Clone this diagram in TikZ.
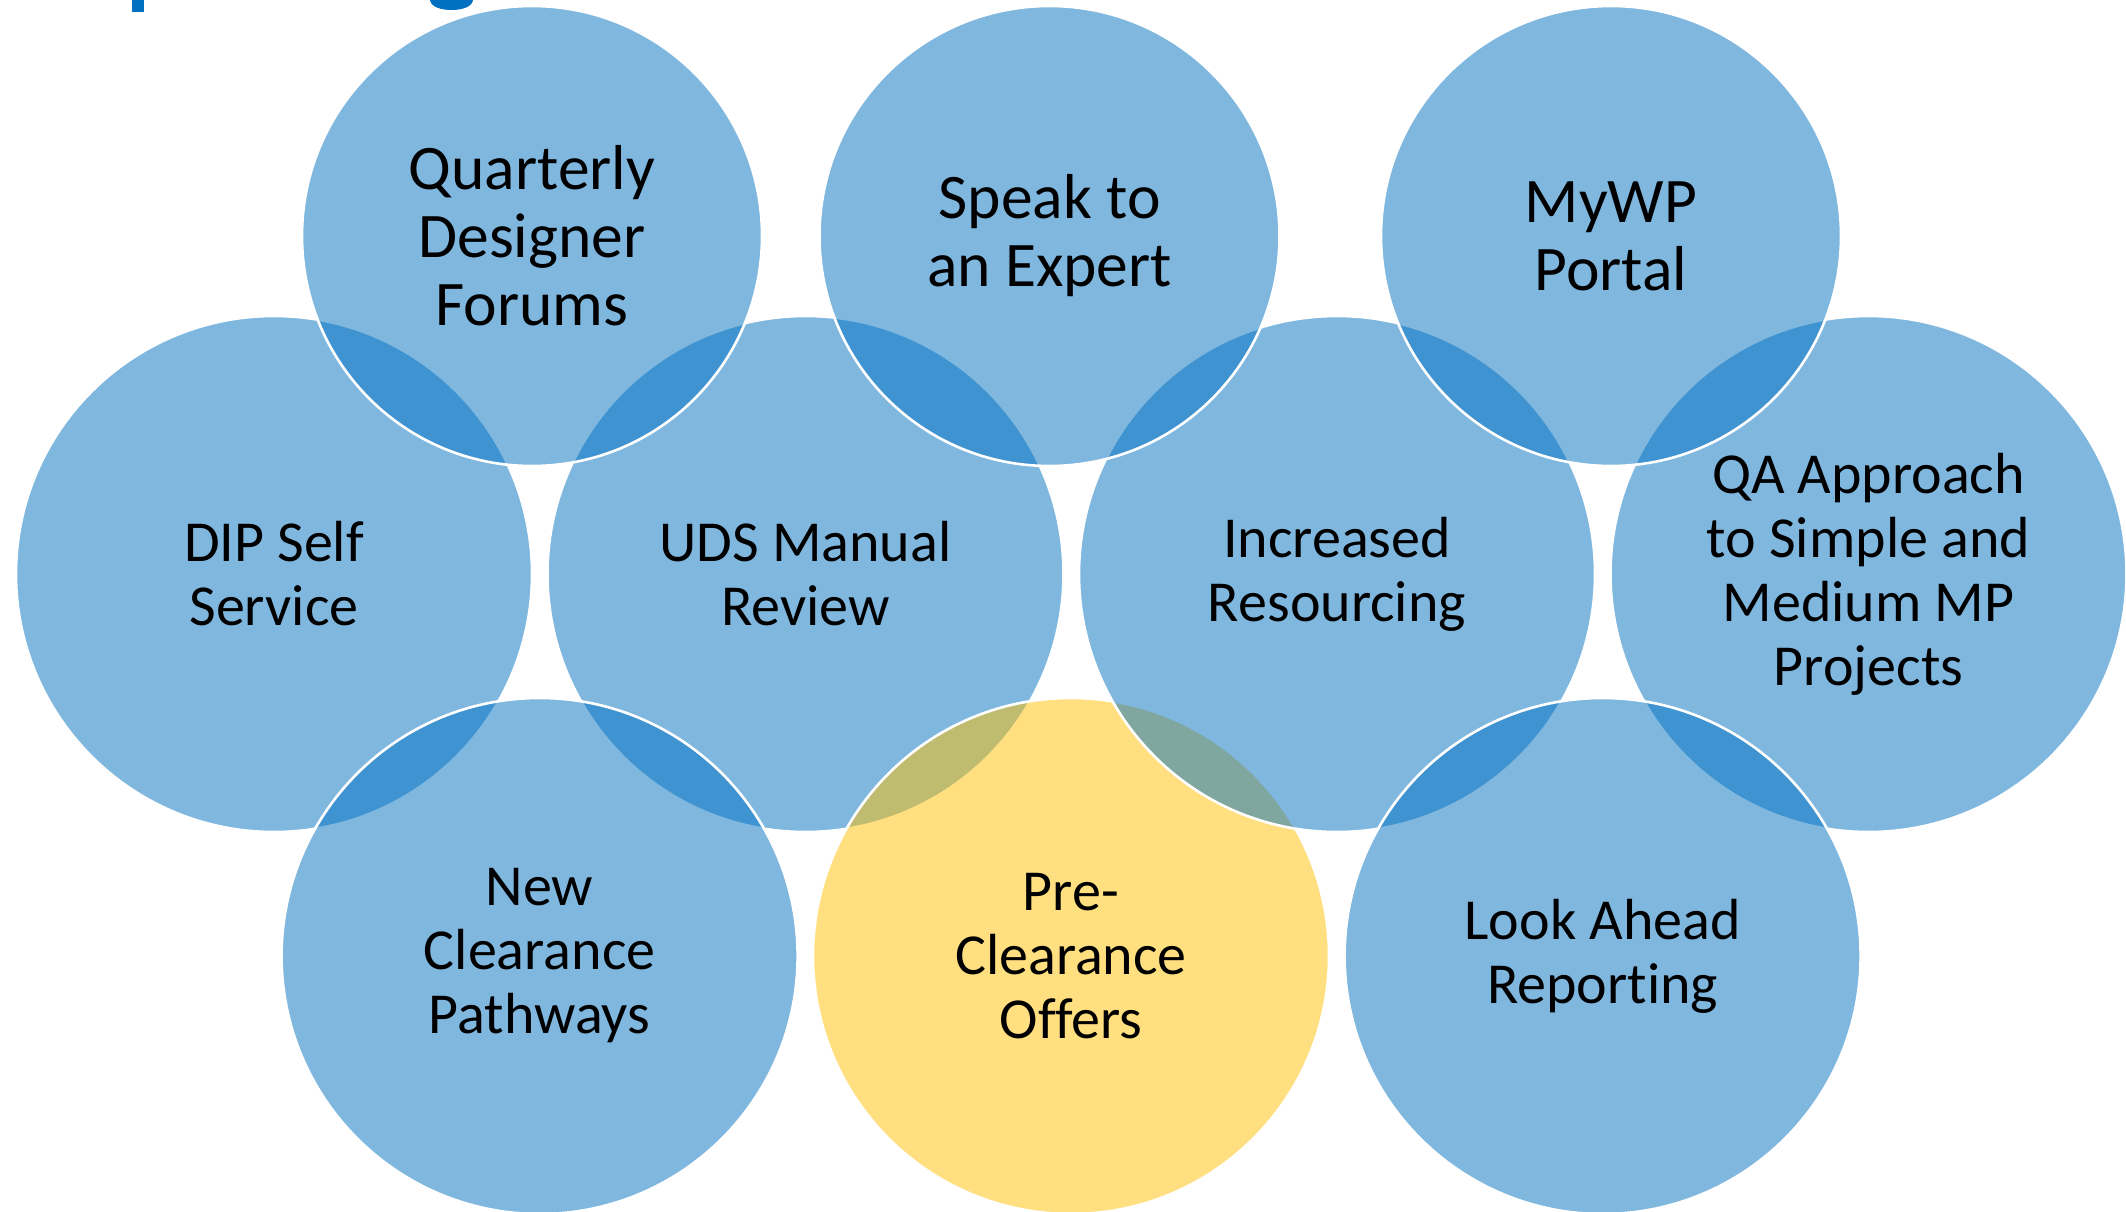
\documentclass[tikz,border=0pt]{standalone}
\usepackage{fontspec}
\setmainfont{Carlito}[RawFeature={-liga;-clig;-dlig}]
\definecolor{vblue}{HTML}{0070C0}
\definecolor{vgold}{HTML}{FFC000}
\definecolor{ttlblue}{HTML}{0070C0}
\begin{document}
\begin{tikzpicture}[x=1pt,y=-1pt,
  vc/.style={circle, inner sep=0pt, outer sep=0pt, fill=vblue, fill opacity=0.5,
     draw=white, draw opacity=1, line width=2.6pt, text opacity=1, text=black, align=center},
  big/.style={vc, minimum size=516pt, font=\fontsize{58}{64}\selectfont},
  small/.style={vc, minimum size=460pt, font=\fontsize{63.5}{68}\selectfont},
  gold/.style={fill=vgold}]
\useasboundingbox (0,0) rectangle (2126,1211);
% title fragments cut off at the top
\fill[ttlblue] (132,0) rectangle (144,12);
\fill[ttlblue] (430,0) .. controls (431,7) and (441,10) .. (451.5,10) .. controls (462,10) and (472,7) .. (473,0) -- cycle;
% circles in drawing order
\node[big] (dip) at (274,574) {DIP Self\\Service};
\node[big] (uds) at (805.5,574) {UDS Manual\\Review};
\node[big, gold] (pre) at (1071,956) {Pre-\\Clearance\\Offers};
\node[big] (inc) at (1337,574) {Increased\\Resourcing};
\node[big] (qa) at (1868.5,574) {QA Approach\\to Simple and\\Medium MP\\Projects};
\node[small] (qdf) at (532,236) {Quarterly\\Designer\\Forums};
\node[small] (ste) at (1049.5,236) {Speak to\\an Expert};
\node[small] (mywp) at (1611,236) {MyWP\\Portal};
\node[big] (ncp) at (539.6,956) {New\\Clearance\\Pathways};
\node[big] (lar) at (1602.6,956) {Look Ahead\\Reporting};
\end{tikzpicture}
\end{document}
